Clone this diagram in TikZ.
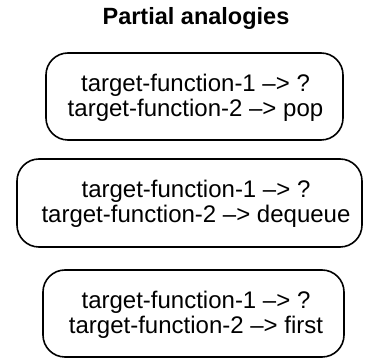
\documentclass[tikz,border=0pt]{standalone}
\usepackage{fontspec}
\setmainfont{Liberation Sans}
\begin{document}
\begin{tikzpicture}[x=1pt,y=-1pt,
  framebox/.style={draw=black, line width=1.6pt, rounded corners=22pt, inner sep=0pt},
  boxtext/.style={align=center, inner sep=0pt, font=\fontsize{24}{25}\selectfont},
  heading/.style={font=\fontsize{23.5}{27}\selectfont\bfseries, anchor=base}]
  \useasboundingbox (0,0) rectangle (365,358);
  \node[heading] (title) at (196,25) {Partial analogies};
  % three rounded frames
  \node[framebox, minimum width=297pt, minimum height=87pt] (pop) at (194.5,96.5) {};
  \node[framebox, minimum width=345pt, minimum height=88pt] (dequeue) at (189.5,203) {};
  \node[framebox, minimum width=301pt, minimum height=87pt] (first) at (193.5,313.5) {};
  % their contents
  \node[boxtext] (poptext) at (195.5,98)
    {target-function-1 –> ?\\target-function-2 –> pop};
  \node[boxtext] (dequeuetext) at (196,204)
    {target-function-1 –> ?\\target-function-2 –> dequeue};
  \node[boxtext] (firsttext) at (196,315)
    {target-function-1 –> ?\\target-function-2 –> first};
\end{tikzpicture}
\end{document}
